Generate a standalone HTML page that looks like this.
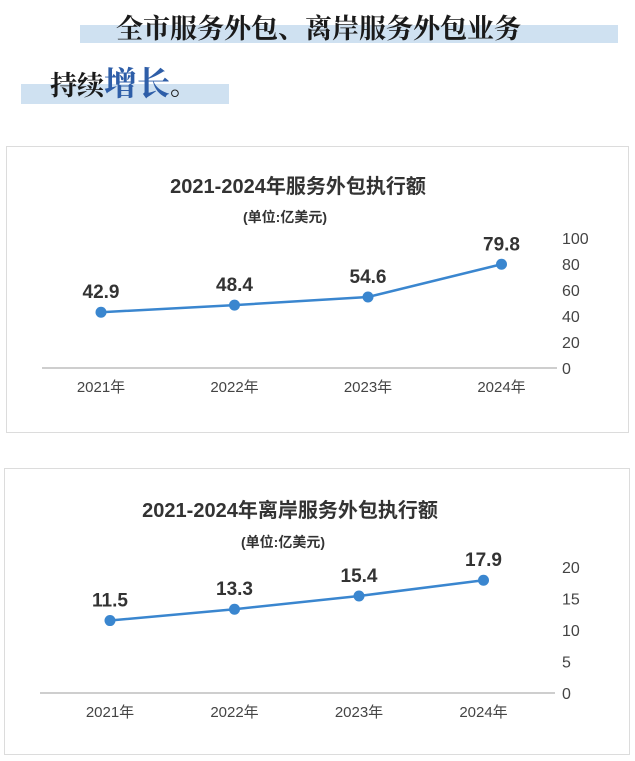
<!DOCTYPE html>
<html><head><meta charset="utf-8">
<style>
html,body{margin:0;padding:0;background:#fff;width:635px;height:761px;overflow:hidden;}
svg text{font-family:"Liberation Sans","Noto Sans CJK SC",sans-serif;}
.hd{font-family:"Liberation Serif","Noto Serif CJK SC",serif;font-weight:bold;}
</style></head>
<body>
<svg id="page" width="635" height="761" viewBox="0 0 635 761" xmlns="http://www.w3.org/2000/svg">
  <rect x="80" y="25" width="538" height="18" fill="#cfe1f1"/>
  <text class="hd" x="116" y="38" font-size="27" fill="#1a1a1a">全市服务外包、离岸服务外包业务</text>
  <rect x="21" y="84" width="208" height="20" fill="#cfe1f1"/>
  <text class="hd" x="50" y="95" font-size="27" fill="#1a1a1a">持续<tspan fill="#2e5ea8" font-size="33">增长</tspan>。</text>

  <rect x="6.5" y="146.5" width="622" height="286" fill="#fff" stroke="#dcdcdc"/>
  <text x="298" y="193" font-size="20" font-weight="600" text-anchor="middle" fill="#333">2021-2024年服务外包执行额</text>
  <text x="285" y="222" font-size="14" font-weight="600" text-anchor="middle" fill="#333">(单位:亿美元)</text>
  <g id="c1"></g>

  <rect x="4.5" y="468.5" width="625" height="286" fill="#fff" stroke="#dcdcdc"/>
  <text x="290" y="517" font-size="20" font-weight="600" text-anchor="middle" fill="#333">2021-2024年离岸服务外包执行额</text>
  <text x="283" y="547" font-size="14" font-weight="600" text-anchor="middle" fill="#333">(单位:亿美元)</text>
  <g id="c2"></g>
</svg>
<script>
const categories = ["2021年","2022年","2023年","2024年"];
const values1 = [42.9, 48.4, 54.6, 79.8];
const ticks1 = [0, 20, 40, 60, 80, 100];
const values2 = [11.5, 13.3, 15.4, 17.9];
const ticks2 = [0, 5, 10, 15, 20];
const NS = "http://www.w3.org/2000/svg";
function mk(parent, tag, attrs, txt){
  const e = document.createElementNS(NS, tag);
  for (const k in attrs) e.setAttribute(k, attrs[k]);
  if (txt !== undefined) e.textContent = txt;
  parent.appendChild(e);
  return e;
}
function draw(gid, pre, values, ticks, cfg){
  const g = document.getElementById(gid);
  const x = i => cfg.x0 + i * cfg.dx;
  const y = v => cfg.base - v * cfg.k;
  const ax = mk(g, "line", {x1: cfg.ax0, x2: cfg.ax1, y1: cfg.base, y2: cfg.base, stroke: "#bdbdbd", "stroke-width": 1.5});
  
  
  ticks.forEach(t => {
    const tl = mk(g, "text", {x: cfg.tx, y: y(t) + 6, "font-size": 16, fill: "#444"}, String(t));
    
    
  });
  categories.forEach((c, i) => {
    const cl = mk(g, "text", {x: x(i), y: cfg.base + 24, "font-size": 15, "text-anchor": "middle", fill: "#444"}, c);
    
    
  });
  const pts = values.map((v, i) => x(i) + "," + y(v)).join(" ");
  const line = mk(g, "polyline", {points: pts, fill: "none", stroke: "#3a86cf", "stroke-width": 2.5});
  
  
  values.forEach((v, i) => {
    const p = mk(g, "circle", {cx: x(i), cy: y(v), r: 5.5, fill: "#3a86cf"});
    
    
    const lb = mk(g, "text", {x: x(i), y: y(v) - 14, "font-size": 19, "font-weight": "bold", "text-anchor": "middle", fill: "#333"}, v.toFixed(1));
    
    
  });
}
draw("c1", "chart-1", values1, ticks1, {x0: 101, dx: 133.5, base: 368, k: 1.3, ax0: 42, ax1: 557, tx: 562});
draw("c2", "chart-2", values2, ticks2, {x0: 110, dx: 124.5, base: 693, k: 6.3, ax0: 40, ax1: 555, tx: 562});
</script>
</body></html>
